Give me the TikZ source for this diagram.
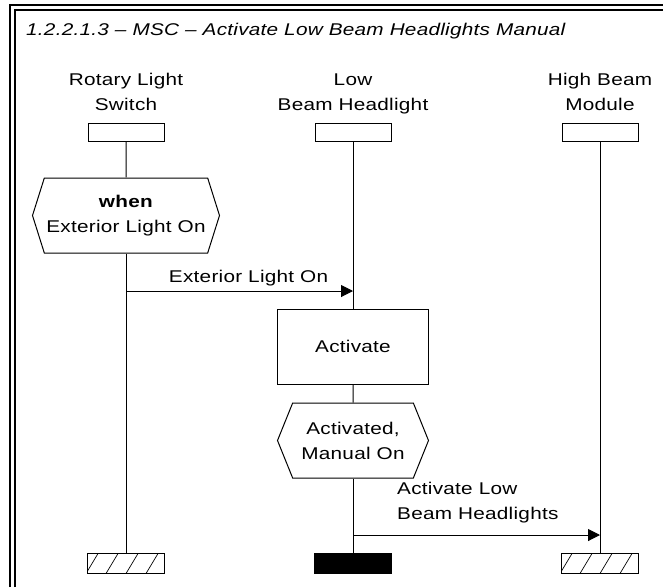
\documentclass[tikz,border=0pt]{standalone}
\usepackage{fontspec}
\setmainfont{Liberation Sans}[FakeStretch=1.22, LetterSpace=1.5]
\usetikzlibrary{arrows.meta,positioning,shapes.symbols}

\newcommand{\hatchtail}[1]{%
  \begin{scope}
    \clip (#1.south west) rectangle (#1.north east);
    \foreach \k in {0,...,4}
      \draw[line width=0.7pt] ([xshift=\k*20pt-1pt]#1.south west) -- ++(12,-20);
  \end{scope}}

\begin{document}
\begin{tikzpicture}[
  x=1pt, y=-1pt,
  every node/.style={font=\fontsize{17pt}{25pt}\selectfont},
  ttl/.style={font=\fontsize{17pt}{25pt}\selectfont\itshape, inner sep=0pt},
  lbl/.style={align=center, inner sep=0pt},
  head/.style={rectangle, draw, line width=1pt, minimum width=76pt, minimum height=18pt, inner sep=0pt},
  tail/.style={rectangle, draw, line width=1pt, minimum width=77pt, minimum height=20pt, inner sep=0pt},
  cond/.style={signal, signal to=west and east, draw, line width=1pt, minimum height=75pt, align=center, inner sep=0pt},
  actbox/.style={rectangle, draw, line width=1pt, minimum width=151pt, minimum height=75pt},
  life/.style={line width=1pt},
  msg/.style={-{Triangle[length=12pt,width=12pt]}, line width=1pt}
]
\useasboundingbox (0,0) rectangle (663,587);
\draw[line width=1.2pt] (10,587) |- (663,5);
\draw[line width=1.2pt] (15,587) |- (663,10);

\node[ttl, anchor=base west] (title) at (26,35) {1.2.2.1.3 -- MSC -- Activate Low Beam Headlights Manual};

\node[head] (rls) at (126,132) {};
\node[head] (lbh) at (353,132) {};
\node[head] (hbm) at (600,132) {};
\node[lbl, anchor=base] (rlsLbl) at (126,110) {Rotary Light\\Switch};
\node[lbl, anchor=base] (lbhLbl) at (353,110) {Low\\Beam Headlight};
\node[lbl, anchor=base] (hbmLbl) at (600,110) {High Beam\\Module};

\node[cond, minimum width=187pt, signal pointer angle=145] (when) at (126,215.5) {\textbf{when}\\Exterior Light On};
\node[actbox] (actv) at (353,346.5) {Activate};
\node[cond, minimum width=151pt, signal pointer angle=136] (state) at (353,440.5) {Activated,\\Manual On};

\node[tail] (rlsEnd) at (126,563) {};
\node[tail, fill=black] (lbhEnd) at (353,563) {};
\node[tail] (hbmEnd) at (600,563) {};
\hatchtail{rlsEnd}
\hatchtail{hbmEnd}

\draw[life] (rls) -- (when);
\draw[life] (when) -- (rlsEnd);
\draw[life] (lbh) -- (actv);
\draw[life] (actv) -- (state);
\draw[life] (state) -- (lbhEnd);
\draw[life] (hbm) -- (hbmEnd);

\coordinate (m1) at (126,291);
\coordinate (m2) at (353,535);
\draw[msg] (m1) -- node[lbl, above=4.5pt, pos=0.54] (m1Lbl) {Exterior Light On} (m1 -| lbh);
\draw[msg] (m2) -- (m2 -| hbm);
\node[lbl, align=left, anchor=base west] (m2Lbl) at (397,519) {Activate Low\\Beam Headlights};
\end{tikzpicture}
\end{document}
